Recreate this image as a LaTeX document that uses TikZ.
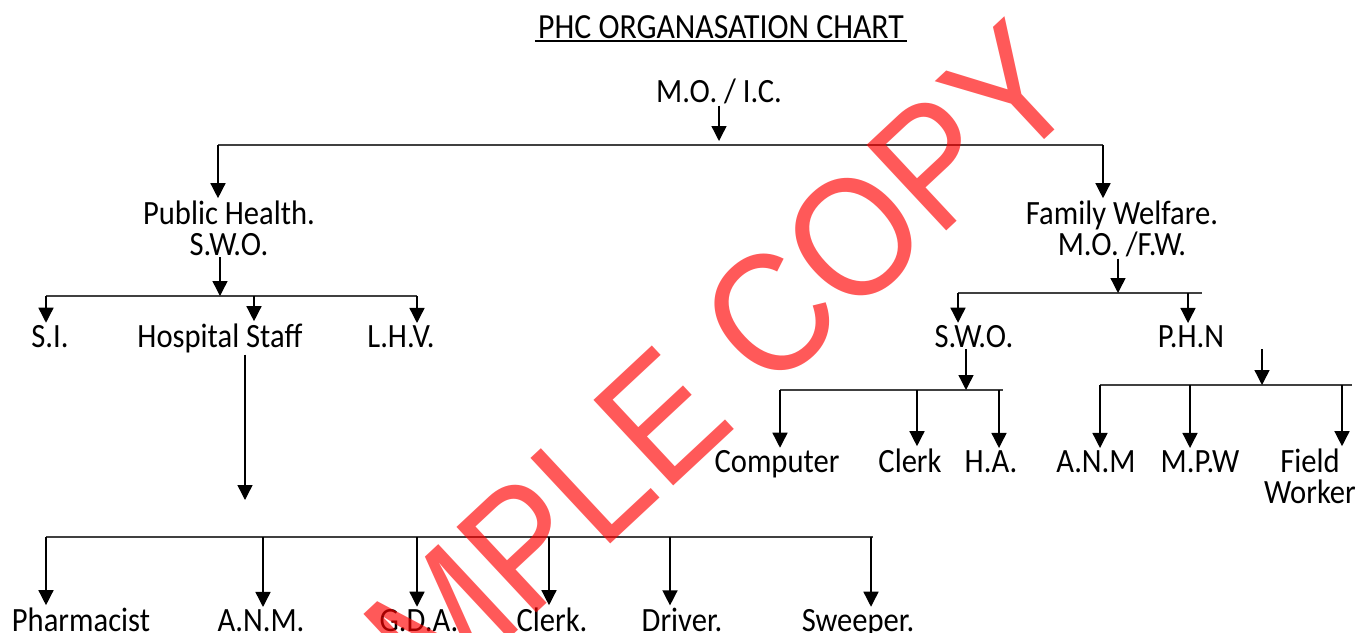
\documentclass[tikz,border=0pt]{standalone}
\usepackage{fontspec}
\setmainfont[FakeStretch=0.9]{Carlito}
\newfontfamily\wmfont[FakeStretch=0.9]{Liberation Sans}
\usetikzlibrary{positioning,arrows.meta}

\begin{document}
\begin{tikzpicture}[x=1pt, y=-1pt, font=\fontsize{34}{31}\selectfont,
  l/.style={anchor=base, inner sep=2pt, align=center},
  a/.style={line width=1.4pt, -{Triangle[length=15pt,width=15pt]}},
  bar/.style={line width=1.8pt, draw=black!75},
  wm/.style={font=\wmfont\fontsize{170}{170}\selectfont, text=red, text opacity=0.65, inner sep=0pt}]
\useasboundingbox[fill=white] (0,0) rectangle (1372,632);
% head
\node[l, inner sep=3pt, font=\fontsize{35.3}{36}\selectfont] (title) at (721,38) {PHC ORGANASATION CHART};
\draw[line width=2pt] (title.south west) -- (title.south east);
\node[l] (moic) at (719,102) {M.O. / I.C.};
\coordinate (t1) at (218,145); \coordinate (t2) at (1103,145);
\draw[bar] (t1) -- (t2);
\draw[a] (moic.south) -- ([yshift=4pt]moic.south |- t1);
\node[l] (ph) at (229,255) {Public Health.\\S.W.O.};
\node[l] (fw) at (1122,255) {Family Welfare.\\M.O. /F.W.};
\draw[a] (t1) -- (t1 |- ph.north);
\draw[a] (t2) -- (t2 |- fw.north);
% public health side
\coordinate (p0) at (220,296); \coordinate (p1) at (46,296);
\coordinate (p2) at (254,296); \coordinate (p3) at (417,296);
\draw[bar] (p1) -- (p3);
\draw[a] (p0 |- ph.south) -- (p0);
\node[l] (si) at (50,347) {S.I.};
\node[l] (hs) at (220,347) {Hospital Staff};
\node[l] (lhv) at (401,347) {L.H.V.};
\draw[a] (p1) -- (p1 |- si.north);
\draw[a] (p2) -- (p2 |- hs.north);
\draw[a] (p3) -- (p3 |- lhv.north);
\coordinate (h0) at (245,500);
\draw[a] (h0 |- hs.south) -- (h0);
\coordinate (q1) at (46,537); \coordinate (q2) at (263,537);
\coordinate (q3) at (417,537); \coordinate (q4) at (549,537);
\coordinate (q5) at (670,537); \coordinate (q6) at (871,537);
\coordinate (qe) at (873,537);
\draw[bar] (q1) -- (qe);
\node[l] (pharm) at (81,631) {Pharmacist};
\node[l] (anm) at (261,631) {A.N.M.};
\node[l] (gda) at (419,631) {G.D.A.};
\node[l] (clerk) at (552,631) {Clerk.};
\node[l] (driver) at (682,631) {Driver.};
\node[l] (sweeper) at (858,631) {Sweeper.};
\draw[a] (q1) -- (q1 |- pharm.north);
\draw[a] (q2) -- (q2 |- anm.north);
\draw[a] (q3) -- (q3 |- gda.north);
\draw[a] (q4) -- (q4 |- clerk.north);
\draw[a] (q5) -- (q5 |- driver.north);
\draw[a] (q6) -- (q6 |- sweeper.north);
% family welfare side
\coordinate (r0) at (1118,293); \coordinate (r1) at (958,293);
\coordinate (r2) at (1188,293); \coordinate (re) at (1202,293);
\draw[bar] (r1) -- (re);
\draw[a] (r0 |- fw.south) -- (r0);
\node[l] (swo) at (974,347) {S.W.O.};
\node[l] (phn) at (1191,347) {P.H.N};
\draw[a] (r1) -- (r1 |- swo.north);
\draw[a] (r2) -- (r2 |- phn.north);
\coordinate (s0) at (966,390); \coordinate (s1) at (780,390);
\coordinate (s2) at (917,390); \coordinate (s3) at (999,390);
\coordinate (se) at (1003,390);
\draw[bar] (s1) -- (se);
\draw[a] (s0 |- swo.south) -- (s0);
\node[l] (comp) at (777,472) {Computer};
\node[l] (clk) at (910,472) {Clerk};
\node[l] (ha) at (991,472) {H.A.};
\draw[a] (s1) -- (s1 |- comp.north);
\draw[a] (s2) -- (s2 |- clk.north);
\draw[a] (s3) -- (s3 |- ha.north);
\coordinate (n0) at (1262,385); \coordinate (n1) at (1100,385);
\coordinate (n2) at (1190,385); \coordinate (n3) at (1342,385);
\coordinate (ne) at (1352,385);
\draw[bar] (n1) -- (ne);
\draw[a] (n0 |- phn.south) -- (n0);
\node[l] (anm2) at (1096,472) {A.N.M};
\node[l] (mpw) at (1200,472) {M.P.W};
\node[l] (fwk) at (1310,503) {Field\\Worker};
\draw[a] (n1) -- (n1 |- anm2.north);
\draw[a] (n2) -- (n2 |- mpw.north);
\draw[a] (n3) -- (n3 |- fwk.north);
% watermark
\node[wm, rotate=43] (mark) at (646,431) {SAMPLE COPY};
\end{tikzpicture}
\end{document}
